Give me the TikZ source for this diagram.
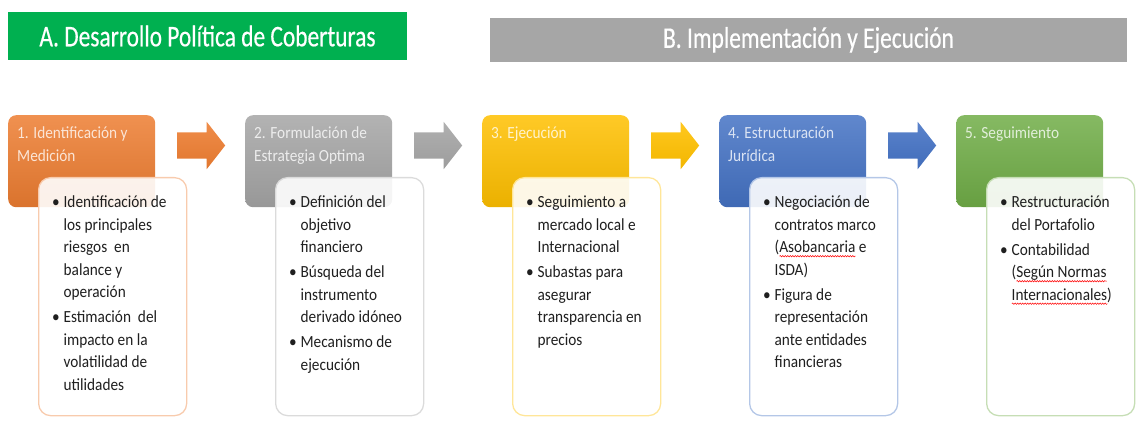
\documentclass[tikz,border=0pt]{standalone}
\usepackage{fontspec}
\setmainfont{Carlito}[FakeStretch=0.9]
\newfontfamily\fuentetitulo{Carlito}[FakeStretch=0.78,FakeBold=0.5]
\usetikzlibrary{shapes.arrows,decorations.pathmorphing}
\definecolor{naranja}{HTML}{ED7D31}
\definecolor{gris}{HTML}{A5A5A5}
\definecolor{amarillo}{HTML}{FFC000}
\definecolor{azul}{HTML}{4472C4}
\definecolor{verde}{HTML}{70AD47}
\definecolor{verdeA}{HTML}{00B050}
\definecolor{grisB}{HTML}{A6A6A6}
\definecolor{texto}{HTML}{1F1F1F}
\newcommand\punto[1]{\par\hangindent=25pt\hangafter=0\noindent\llap{\textbullet\hspace{4pt}}\strut#1\par}
\newcommand\errorort[1]{\setbox0\hbox{#1}\edef\anchoerr{\the\wd0}%
  \makebox[0pt][l]{\raisebox{-4.5pt}[0pt][0pt]{\tikz[x=1pt,y=1pt,sharp corners]\draw[red,line width=0.5pt,
    opacity=1,decorate,decoration={snake,amplitude=0.7pt,segment length=2.5pt}] (0,0)--(\anchoerr,0);}}\box0\relax}
\begin{document}
\begin{tikzpicture}[x=1pt,y=-1pt,
  titulo/.style={inner sep=0pt,text=white,font=\fuentetitulo\fontsize{30}{34}\selectfont},
  paso/.style={anchor=north west,minimum width=147pt,minimum height=92pt,inner xsep=9pt,inner ysep=8pt,
    rounded corners=8pt,top color=#1!85!white,bottom color=#1!92!black,text=white!80!#1,
    font=\fontsize{17}{22.5}\selectfont},
  detalle/.style={anchor=north west,draw=#1!40!white,line width=1.3pt,fill=white,fill opacity=0.9,text opacity=1,
    rounded corners=12pt,inner xsep=0pt,inner ysep=14.25pt,text=texto,font=\fontsize{17}{22.5}\selectfont},
  flecha/.style={single arrow,anchor=tail,minimum height=48pt,single arrow head extend=10.5pt,
    single arrow tip angle=104,inner xsep=0pt,inner ysep=13pt,top color=#1!88!white,bottom color=#1!95!black}]
\useasboundingbox (0,0) rectangle (1145,427);
% encabezados
\node[titulo,fill=verdeA,minimum width=399pt,minimum height=48pt] (tituloA) at (207.5,36) {A. Desarrollo Política de Coberturas};
\node[titulo,fill=grisB,minimum width=637pt,minimum height=44pt] (tituloB) at (808.5,40) {B. Implementación y Ejecución};
% paso 1
\node[paso=naranja] (paso1) at (8,115) {\parbox[t][76pt][t]{129pt}{\strut 1. Identificación y\\Medición}};
\node[detalle=naranja] (det1) at (38,177) {\parbox[t][209.5pt][t]{148pt}{%
  \punto{Identificación de\\los principales\\riesgos\ \ en\\balance y\\operación}\vspace{2.5pt}%
  \punto{Estimación\ \ del\\impacto en la\\volatilidad de\\utilidades}}};
\node[flecha=naranja] (flecha1) at (177,145.5) {};
% paso 2
\node[paso=gris] (paso2) at (245,115) {\parbox[t][76pt][t]{129pt}{\strut 2. Formulación de\\Estrategia Optima}};
\node[detalle=gris] (det2) at (275,177) {\parbox[t][209.5pt][t]{148pt}{%
  \punto{Definición del\\objetivo\\financiero}\vspace{2.5pt}%
  \punto{Búsqueda del\\instrumento\\derivado idóneo}\vspace{2.5pt}%
  \punto{Mecanismo de\\ejecución}}};
\node[flecha=gris] (flecha2) at (414,145.5) {};
% paso 3
\node[paso=amarillo] (paso3) at (482,115) {\parbox[t][76pt][t]{129pt}{\strut 3. Ejecución}};
\node[detalle=amarillo] (det3) at (512,177) {\parbox[t][209.5pt][t]{148pt}{%
  \punto{Seguimiento a\\mercado local e\\Internacional}\vspace{2.5pt}%
  \punto{Subastas para\\asegurar\\transparencia en\\precios}}};
\node[flecha=amarillo] (flecha3) at (651,145.5) {};
% paso 4
\node[paso=azul] (paso4) at (719,115) {\parbox[t][76pt][t]{129pt}{\strut 4. Estructuración\\Jurídica}};
\node[detalle=azul] (det4) at (749,177) {\parbox[t][209.5pt][t]{148pt}{%
  \punto{Negociación de\\contratos marco\\(\errorort{Asobancaria} e\\ISDA)}\vspace{2.5pt}%
  \punto{Figura de\\representación\\ante entidades\\financieras}}};
\node[flecha=azul] (flecha4) at (888,145.5) {};
% paso 5
\node[paso=verde] (paso5) at (956,115) {\parbox[t][76pt][t]{129pt}{\strut 5. Seguimiento}};
\node[detalle=verde] (det5) at (986,177) {\parbox[t][209.5pt][t]{148pt}{%
  \punto{Restructuración\\del Portafolio}\vspace{2.5pt}%
  \punto{Contabilidad\\(\errorort{Según Normas}\\\errorort{Internacionales})}}};
\end{tikzpicture}
\end{document}
